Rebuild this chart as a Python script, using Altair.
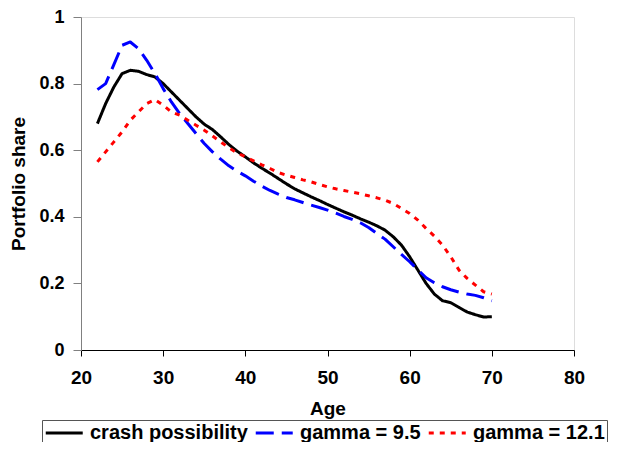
import altair as alt
import pandas as pd

ages = list(range(22, 71))
crash = [0.68, 0.74, 0.79, 0.83, 0.84, 0.837, 0.827, 0.82, 0.80, 0.775,
         0.75, 0.725, 0.70, 0.678, 0.662, 0.64, 0.617, 0.597, 0.58, 0.562,
         0.546, 0.531, 0.515, 0.499, 0.484, 0.472, 0.46, 0.449, 0.437, 0.426,
         0.415, 0.405, 0.394, 0.384, 0.373, 0.36, 0.34, 0.315, 0.28, 0.24,
         0.20, 0.168, 0.148, 0.142, 0.128, 0.114, 0.106, 0.099, 0.10]
gamma95 = [0.782, 0.80, 0.857, 0.915, 0.925, 0.905, 0.87, 0.83, 0.785, 0.745,
           0.71, 0.68, 0.65, 0.62, 0.595, 0.573, 0.553, 0.537, 0.523, 0.507,
           0.492, 0.479, 0.468, 0.458, 0.451, 0.443, 0.435, 0.428, 0.42, 0.411,
           0.401, 0.392, 0.382, 0.368, 0.35, 0.333, 0.31, 0.287, 0.265, 0.241,
           0.217, 0.202, 0.19, 0.181, 0.174, 0.168, 0.164, 0.157, 0.148]
gamma121 = [0.565, 0.595, 0.625, 0.655, 0.69, 0.715, 0.74, 0.752, 0.735, 0.715,
            0.705, 0.69, 0.675, 0.66, 0.643, 0.625, 0.607, 0.592, 0.58, 0.568,
            0.556, 0.545, 0.533, 0.525, 0.518, 0.511, 0.505, 0.497, 0.49, 0.484,
            0.479, 0.474, 0.469, 0.463, 0.457, 0.45, 0.44, 0.425, 0.41, 0.39,
            0.365, 0.342, 0.315, 0.28, 0.24, 0.215, 0.195, 0.175, 0.168]

series_names = ["crash possibility", "gamma = 9.5", "gamma = 12.1"]
series_colors = ["#000000", "#0000FF", "#FF0000"]
series_dashes = [[1, 0], [18, 8], [5, 6]]
x_ticks = [20, 30, 40, 50, 60, 70, 80]
y_ticks = [0, 0.2, 0.4, 0.6, 0.8, 1]

rows = []
for name, vals in zip(series_names, [crash, gamma95, gamma121]):
    for i, (a, v) in enumerate(zip(ages, vals)):
        rows.append({"Age": a, "share": v, "series": name, "order": i})
df = pd.DataFrame(rows)

FONT = "Liberation Sans"

# legend line symbol: a horizontal segment four radii long, starting at the entry's left edge
legend = alt.Legend(orient="none", legendX=-39, legendY=403,
                    direction="horizontal", strokeColor="#555555",
                    fillColor="#FFFFFF", padding=2,
                    symbolType="M-1,0L3,0", symbolSize=342,
                    symbolStrokeWidth=3, labelFontSize=20,
                    labelFontWeight="bold", labelFont=FONT,
                    labelColor="#000000", labelLimit=400,
                    labelOffset=24, columnPadding=1)

chart = alt.Chart(df).mark_line(strokeWidth=3, strokeCap="butt", strokeJoin="round").encode(
    x=alt.X("Age:Q", scale=alt.Scale(domain=[20, 80], nice=False, zero=False),
            axis=alt.Axis(values=x_ticks, title="Age", grid=False, labelFlush=False,
                          domainColor="#000000", tickColor="#000000", tickSize=6,
                          labelFontSize=19, labelFontWeight="bold", labelPadding=12,
                          labelColor="#000000", labelFont=FONT,
                          titleFontSize=19, titleFontWeight="bold", titleFont=FONT,
                          titleColor="#000000", titlePadding=12)),
    y=alt.Y("share:Q", scale=alt.Scale(domain=[0, 1], nice=False),
            axis=alt.Axis(values=y_ticks, format="~g", title="Portfolio share", grid=False,
                          labelFlush=False,
                          domainColor="#808080", tickColor="#808080", tickSize=8,
                          labelFontSize=18, labelFontWeight="bold", labelPadding=9,
                          labelColor="#000000", labelFont=FONT,
                          titleFontSize=19, titleFontWeight="bold", titleFont=FONT,
                          titleColor="#000000", titlePadding=10)),
    color=alt.Color("series:N", scale=alt.Scale(domain=series_names, range=series_colors),
                    title=None, legend=legend),
    strokeDash=alt.StrokeDash("series:N", scale=alt.Scale(domain=series_names, range=series_dashes),
                              title=None, legend=legend),
    order="order:Q",
).properties(
    width=493, height=333,
    autosize=alt.AutoSizeParams(type="none"),
    padding={"left": 73, "top": 9, "right": 36, "bottom": 92},
).configure_view(stroke=None).configure(background="#FFFFFF")

chart.save("out.html", embed_options={"renderer": "svg", "actions": False})
